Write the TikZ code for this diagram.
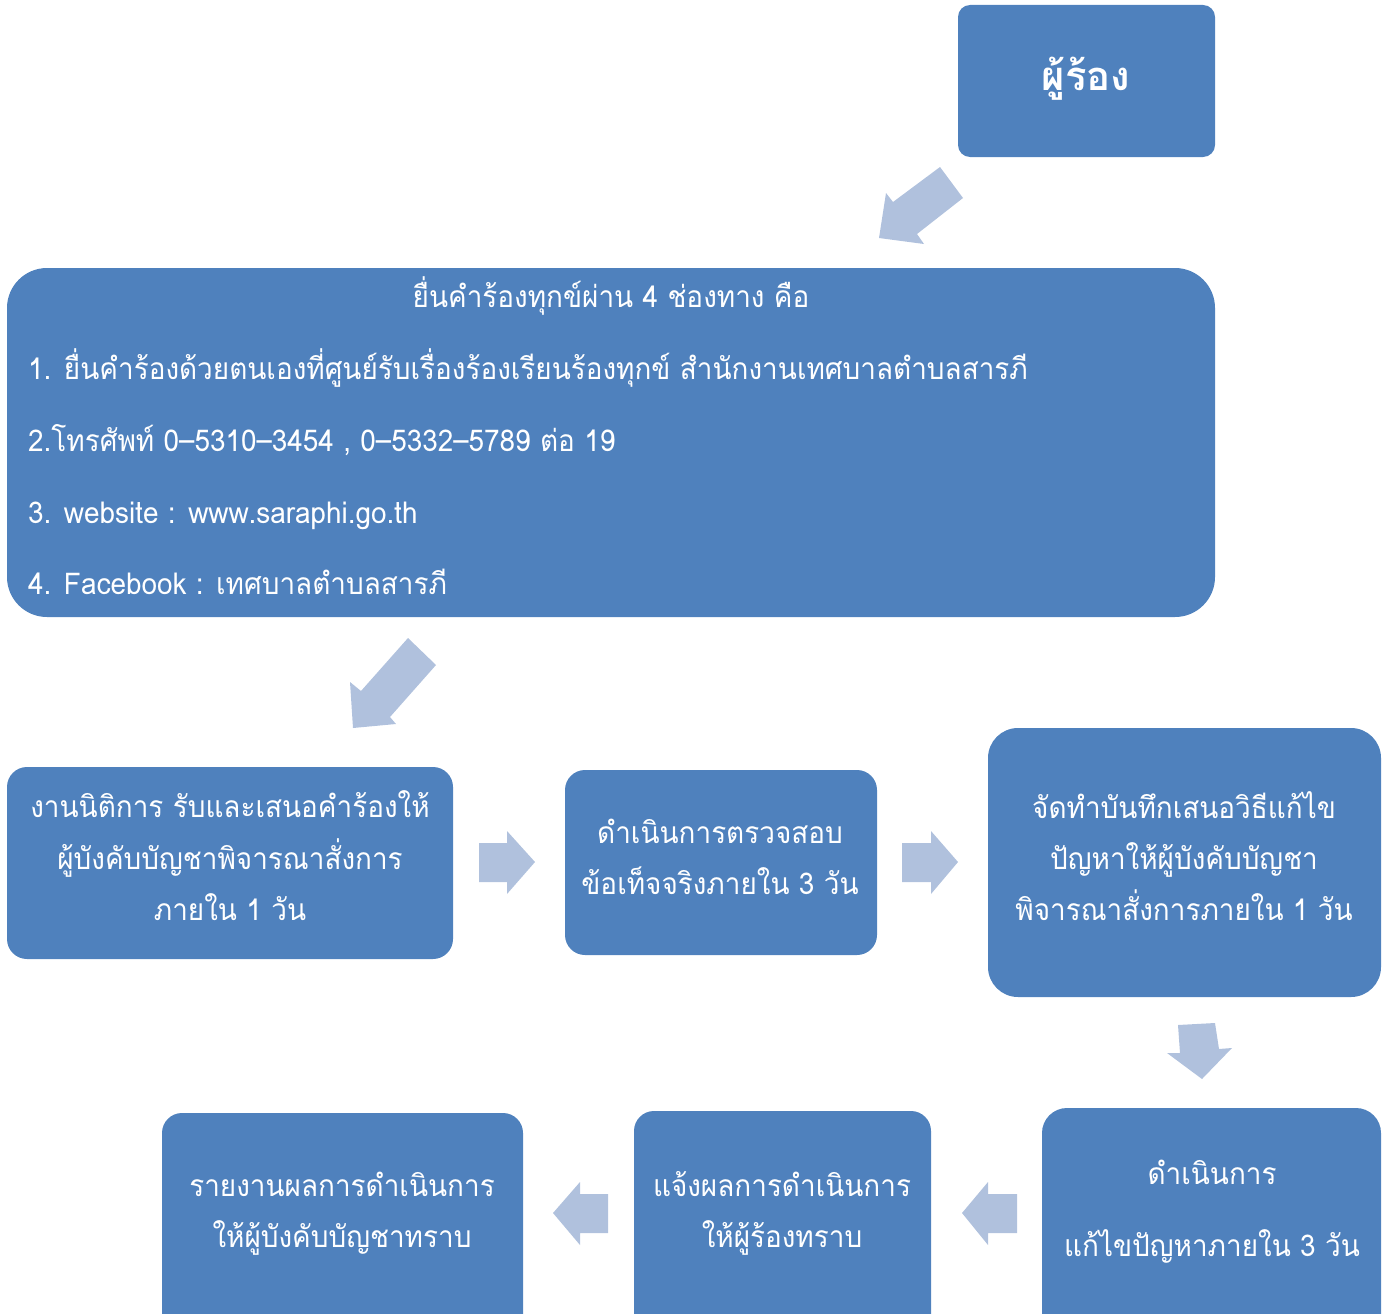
\documentclass[tikz,border=0pt]{standalone}
\usepackage{fontspec}
\newfontfamily\thai[Script=Thai,FakeStretch=0.93]{Loma}
\newfontfamily\thaib[Script=Thai]{Loma}
\definecolor{boxblue}{HTML}{4F81BD}
\definecolor{arrowblue}{HTML}{B0C1DD}
\begin{document}
\begin{tikzpicture}[x=1pt,y=-1pt,
  box/.style={fill=boxblue, draw=none, rounded corners=#1, inner sep=0pt},
  box/.default=20pt,
  txt/.style={text=white, anchor=base, inner sep=0pt, font=\thai\fontsize{30}{30}\selectfont},
  blk/.style={fill=arrowblue, draw=none}]
\useasboundingbox (0,0) rectangle (1389,1314);
\clip (0,0) rectangle (1389,1314);
% boxes
\node[box=12pt, minimum width=257pt, minimum height=152pt] (top) at (1086.5,81) {};
\node[box=40pt, minimum width=1208pt, minimum height=349pt] (big) at (611,442.5) {};
\node[box=20pt, minimum width=446pt, minimum height=192pt] (a) at (230,863) {};
\node[box=20pt, minimum width=312pt, minimum height=185pt] (b) at (721,862.5) {};
\node[box=30pt, minimum width=393pt, minimum height=269pt] (c) at (1184.5,862.5) {};
\node[box=25pt, minimum width=339pt, minimum height=240pt] (d) at (1211.5,1228) {};
\node[box=20pt, minimum width=297pt, minimum height=240pt] (e) at (782.5,1231) {};
\node[box=20pt, minimum width=361pt, minimum height=240pt] (f) at (342.5,1233) {};
% texts
\node[txt, font=\thaib\bfseries\fontsize{40}{40}\selectfont] (t0) at (1086,90) {ผู้ร้อง};
\node[txt] (t1) at (611,307) {ยื่นคำร้องทุกข์ผ่าน 4 ช่องทาง คือ};
\node[txt, anchor=base west] (t2) at (28,379) {1. ยื่นคำร้องด้วยตนเองที่ศูนย์รับเรื่องร้องเรียนร้องทุกข์ สำนักงานเทศบาลตำบลสารภี};
\node[txt, anchor=base west] (t3) at (28,451) {2.โทรศัพท์ 0–5310–3454 , 0–5332–5789 ต่อ 19};
\node[txt, anchor=base west] (t4) at (28,523) {3. website : www.saraphi.go.th};
\node[txt, anchor=base west] (t5) at (28,594) {4. Facebook : เทศบาลตำบลสารภี};
\node[txt] (a1) at (230,817) {งานนิติการ รับและเสนอคำร้องให้};
\node[txt] (a2) at (230,869) {ผู้บังคับบัญชาพิจารณาสั่งการ};
\node[txt] (a3) at (230,920) {ภายใน 1 วัน};
\node[txt] (b1) at (720,843) {ดำเนินการตรวจสอบ};
\node[txt] (b2) at (720,894) {ข้อเท็จจริงภายใน 3 วัน};
\node[txt] (c1) at (1184,818) {จัดทำบันทึกเสนอวิธีแก้ไข};
\node[txt] (c2) at (1184,869) {ปัญหาให้ผู้บังคับบัญชา};
\node[txt] (c3) at (1184,920) {พิจารณาสั่งการภายใน 1 วัน};
\node[txt] (d1) at (1212,1184) {ดำเนินการ};
\node[txt] (d2) at (1212,1256) {แก้ไขปัญหาภายใน 3 วัน};
\node[txt] (e1) at (782,1196) {แจ้งผลการดำเนินการ};
\node[txt] (e2) at (782,1247) {ให้ผู้ร้องทราบ};
\node[txt] (f1) at (342,1196) {รายงานผลการดำเนินการ};
\node[txt] (f2) at (342,1247) {ให้ผู้บังคับบัญชาทราบ};
% block arrows
\fill[blk] (940,167) -- (963,198) -- (917,234) -- (924,244) -- (879,238) -- (886,193) -- (893,202) -- cycle;
\fill[blk] (408,638) -- (436,665) -- (390,717) -- (396,724) -- (353,728) -- (350,682) -- (361,691) -- cycle;
\fill[blk] (479,843) -- (507,843) -- (507,831) -- (535,862) -- (507,894) -- (507,882) -- (479,882) -- cycle;
\fill[blk] (902,843) -- (931,843) -- (931,831) -- (958,862) -- (931,894) -- (931,882) -- (902,882) -- cycle;
\fill[blk] (1178,1025) -- (1215,1023) -- (1219,1049) -- (1232,1048) -- (1202,1079) -- (1167,1053) -- (1180,1053) -- cycle;
\fill[blk] (1017,1194) -- (988,1194) -- (988,1182) -- (962,1213) -- (988,1245) -- (988,1233) -- (1017,1233) -- cycle;
\fill[blk] (608,1194) -- (580,1194) -- (580,1182) -- (553,1213) -- (580,1245) -- (580,1233) -- (608,1233) -- cycle;
\end{tikzpicture}
\end{document}
